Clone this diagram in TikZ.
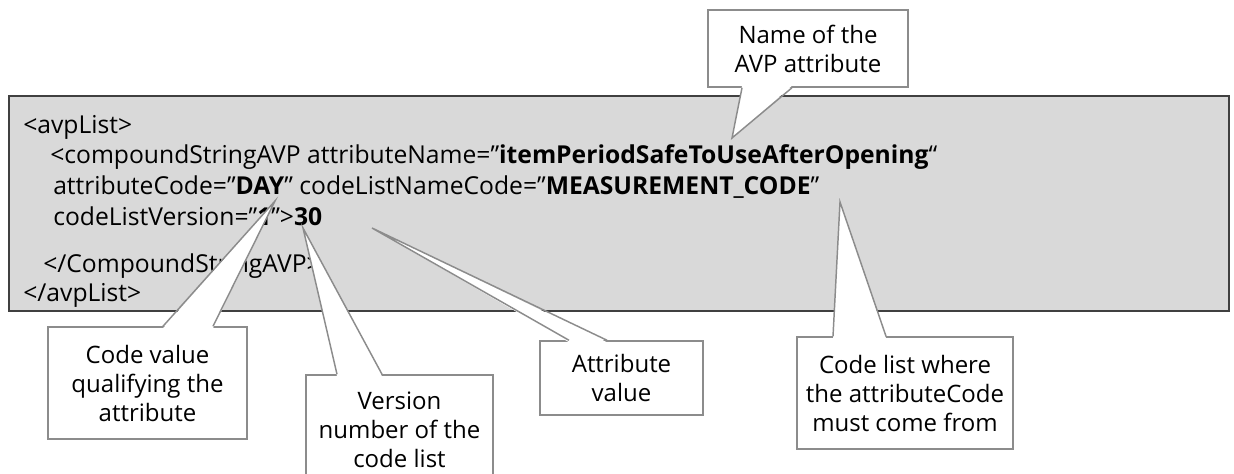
\documentclass[tikz,border=0pt]{standalone}
\usepackage{fontspec}
\setmainfont{Open Sans}
\usetikzlibrary{calc}
\definecolor{boxgray}{HTML}{D9D9D9}
\definecolor{edgegray}{HTML}{404040}
\definecolor{callgray}{HTML}{8C8C8C}
\newcommand{\xmlfont}{\fontsize{18.5pt}{21.75pt}\selectfont}
\newcommand{\notefont}{\fontsize{18pt}{21.75pt}\selectfont}
\tikzset{
  xmlbox/.style={draw=edgegray, line width=1.7pt, fill=boxgray, rectangle},
  xmltext/.style={anchor=base west, inner sep=0pt, font=\xmlfont},
  callbox/.style={draw=callgray, line width=1.1pt, fill=white, rectangle, align=center, font=\notefont},
  callline/.style={draw=callgray, line width=1.1pt, line join=miter},
}
% wedge of a callout: base #1 to #2, tip #3, #4 = overlap into the box
\newcommand{\pointer}[4]{%
  \fill[white] ($(#1)+(0,#4)$) -- (#3) -- ($(#2)+(0,#4)$) -- cycle;
  \draw[callline] (#1) -- (#3) -- (#2);}

\begin{document}
\begin{tikzpicture}[x=0.75pt,y=-0.75pt]
  \useasboundingbox (0,0) rectangle (1234,474);
  % the xml fragment
  \node[xmlbox, minimum width=915pt, minimum height=161.25pt] (xml) at (619,203.5) {};
  \node[xmltext] (avpopen) at (23,134) {<avpList>};
  \node[xmltext] (cmpopen) at (50,164) {<compoundStringAVP attributeName=”\textbf{itemPeriodSafeToUseAfterOpening}“};
  \node[xmltext] (codeline) at (53,195) {attributeCode=”\textbf{DAY}” codeListNameCode=”\textbf{MEASUREMENT\_CODE}”};
  \node[xmltext] (verline) at (53,225) {codeListVersion=”\textbf{1}”>\textbf{30}};
  \node[xmltext] (cmpclose) at (43,272) {</CompoundStringAVP>};
  \node[xmltext] (avpclose) at (23,301) {</avpList>};

  % callouts
  \node[callbox, minimum width=150pt, minimum height=57.75pt] (name) at (808,48.5) {Name of the\\AVP attribute};
  \node[callbox, minimum width=149.25pt, minimum height=84pt] (codeval) at (147.5,383) {Code value\\qualifying the\\attribute};
  \node[callbox, minimum width=140.25pt, minimum height=82.5pt] (version) at (399.5,430) {Version\\number of the\\code list};
  \node[callbox, minimum width=122.25pt, minimum height=55.5pt] (attrval) at (621.5,378) {Attribute\\value};
  \node[callbox, minimum width=162pt, minimum height=84pt] (codelist) at (905,393) {Code list where\\the attributeCode\\must come from};

  \coordinate (nametip) at (732,138);
  \coordinate (codevaltip) at (275,201);
  \coordinate (versiontip) at (303,228);
  \coordinate (attrvaltip) at (372,228);
  \coordinate (codelisttip) at (840,202);

  \coordinate (nameL) at (742,0 |- name.south);
  \coordinate (nameR) at (792,0 |- name.south);
  \coordinate (codevalL) at (163,0 |- codeval.north);
  \coordinate (codevalR) at (213,0 |- codeval.north);
  \coordinate (versionL) at (337,0 |- version.north);
  \coordinate (versionR) at (382,0 |- version.north);
  \coordinate (attrvalL) at (569,0 |- attrval.north);
  \coordinate (attrvalR) at (607,0 |- attrval.north);
  \coordinate (codelistL) at (833,0 |- codelist.north);
  \coordinate (codelistR) at (886,0 |- codelist.north);

  \pointer{nameL}{nameR}{nametip}{-2}
  \pointer{codevalL}{codevalR}{codevaltip}{2}
  \pointer{versionL}{versionR}{versiontip}{2}
  \pointer{attrvalL}{attrvalR}{attrvaltip}{2}
  \pointer{codelistL}{codelistR}{codelisttip}{2}
\end{tikzpicture}
\end{document}
